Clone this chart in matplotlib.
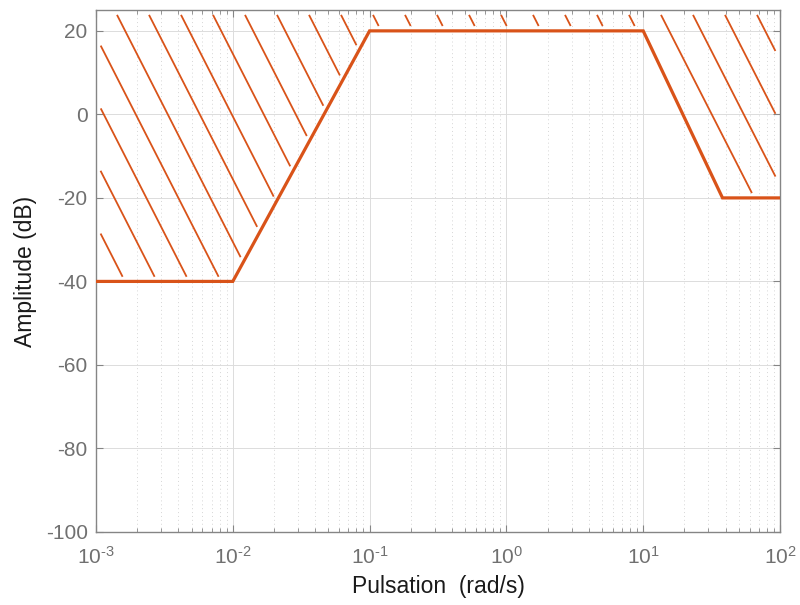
import numpy as np
import matplotlib
matplotlib.use("Agg")
import matplotlib.pyplot as plt
from matplotlib.path import Path
from matplotlib.ticker import FuncFormatter

# template (asymptotic gain limits)
freq = [1e-3, 1e-2, 1e-1, 10, 38, 100]
mag_db = [-40, -40, 20, 20, -20, -20]

xlims = (1e-3, 1e2)
ylims = (-100, 25)
yticks = [-100, -80, -60, -40, -20, 0, 20]

orange = '#D95319'

plt.rcParams['font.family'] = ['Liberation Sans', 'DejaVu Sans']
plt.rcParams['mathtext.fontset'] = 'custom'
plt.rcParams['mathtext.rm'] = 'Liberation Sans'
plt.rcParams['mathtext.it'] = 'Liberation Sans:italic'
plt.rcParams['axes.unicode_minus'] = False


def seg_dist(pts, a, b):
    ab = b - a
    t = np.clip(((pts - a) @ ab) / (ab @ ab), 0, 1)
    proj = a + t[:, None] * ab
    return np.hypot(*(pts - proj).T)


def hatch(ax, xs, ys, spacing=32.0, slope=1.96, gap=4.5, phase=658.5):
    # polygon above the template, in pixels
    top = ax.get_ylim()[1]
    px = list(xs) + [xs[-1], xs[0]]
    py = list(ys) + [top, top]
    poly = ax.transData.transform(np.column_stack([px, py]))
    path = Path(poly, closed=False)
    edges = [(poly[i], poly[(i + 1) % len(poly)]) for i in range(len(poly))]
    bb = ax.get_window_extent()
    d = np.array([1.0, -slope])
    d /= np.hypot(*d)
    t = np.arange(0, 2000, 0.5)
    c0 = bb.x0 + phase
    inv = ax.transData.inverted()
    for k in range(-60, 60):
        start = np.array([c0 + k * spacing, bb.y1])
        pts = start + t[:, None] * d
        ok = path.contains_points(pts)
        if not ok.any():
            continue
        dist = np.min([seg_dist(pts, a, b) for a, b in edges], axis=0)
        ok &= dist >= gap
        idx = np.flatnonzero(ok)
        if len(idx) < 2:
            continue
        runs = np.split(idx, np.flatnonzero(np.diff(idx) > 1) + 1)
        for r in runs:
            if len(r) < 2:
                continue
            seg = inv.transform(pts[[r[0], r[-1]]])
            ax.plot(seg[:, 0], seg[:, 1], color=orange, lw=1.3,
                    solid_capstyle='butt', zorder=3)


def dec_label(v, pos):
    e = int(round(np.log10(v)))
    return r'$\mathregular{10^{\text{%d}}}$' % e


fig = plt.figure(figsize=(8, 6.05), dpi=100)
ax = fig.add_axes([0.12, 0.1207, 0.855, 0.8628])
ax.set_xscale('log')
ax.set_xlim(*xlims)
ax.set_ylim(*ylims)
ax.set_yticks(yticks)
ax.xaxis.set_major_formatter(FuncFormatter(dec_label))

ax.grid(True, which='major', color='#dcdcdc', lw=0.7, ls='-')
ax.grid(True, which='minor', axis='x', color='#d6d6d6', lw=0.7, ls=(0, (1, 3)))
ax.set_axisbelow(True)

for s in ax.spines.values():
    s.set_color('#858585')
    s.set_linewidth(1.0)
ax.tick_params(which='both', direction='in', top=True, right=True,
               colors='#858585', labelcolor='#707070', labelsize=15)
ax.tick_params(which='major', length=5)
ax.tick_params(which='minor', length=3)
ax.tick_params(axis='y', pad=6)
ax.tick_params(axis='x', pad=10)

ax.plot(freq, mag_db, color=orange, lw=2.3, zorder=4, solid_joinstyle='miter')

hatch(ax, freq, mag_db)

ax.set_xlabel('Pulsation  (rad/s)', fontsize=16.5, color='#1a1a1a', labelpad=5)
ax.set_ylabel('Amplitude (dB)', fontsize=16.5, color='#1a1a1a', labelpad=6)

fig.savefig('out.png', dpi=100)
